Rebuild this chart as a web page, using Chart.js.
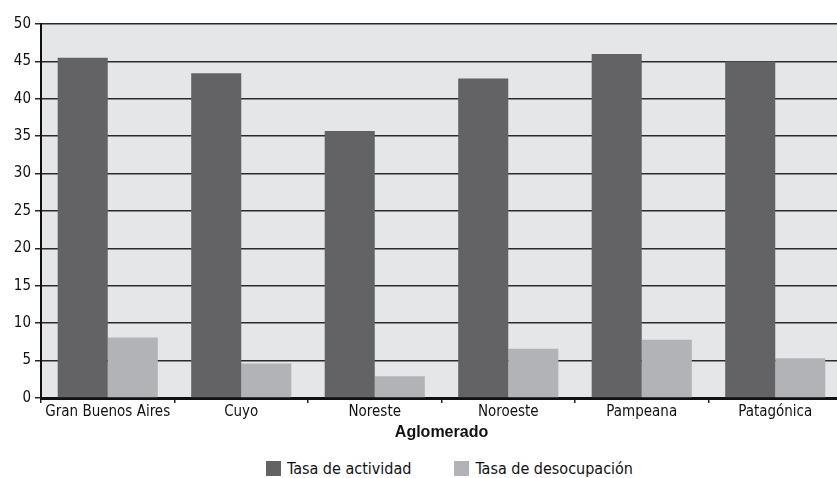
<!DOCTYPE html>
<html>
<head>
<meta charset="utf-8">
<script src="https://cdn.jsdelivr.net/npm/chart.js@4"></script>
<style>
    html, body { margin: 0; padding: 0; background: #ffffff; overflow: hidden; }
    #wrap { position: relative; width: 845px; height: 448px; }
    #legend {
        position: absolute;
        left: 266px;
        top: 459px;
        display: flex;
        align-items: center;
        font-family: "DejaVu Sans Condensed", "DejaVu Sans", sans-serif;
        font-stretch: condensed;
        font-size: 16px;
        color: #111111;
    }
    #legend .item { display: flex; align-items: center; margin-right: 43px; }
    #legend .box { width: 15px; height: 15px; margin-right: 6px; }
</style>
</head>
<body>
<div id="wrap"><canvas id="chart"></canvas></div>
<div id="legend"></div>
<script>
// ---------- Data ----------

const categories = ["Gran Buenos Aires", "Cuyo", "Noreste", "Noroeste", "Pampeana", "Patagónica"];
const tasaActividad = [45.5, 43.4, 35.7, 42.7, 46.0, 45.0];
const tasaDesocupacion = [8.1, 4.6, 2.9, 6.6, 7.8, 5.3];
const yTicks = [0, 5, 10, 15, 20, 25, 30, 35, 40, 45, 50];

const tickFont = { family: "'DejaVu Sans Condensed', 'Liberation Sans', sans-serif", size: 15 };

// ---------- Plot background ----------

const plotBackground = {
    id: "plotBackground",
    beforeDraw(chart) {
        const a = chart.chartArea;
        const c = chart.ctx;
        c.save();
        c.fillStyle = "#e5e6e8";
        c.fillRect(a.left, a.top, a.right - a.left, a.bottom - a.top);
        c.restore();
    }
};

// ---------- HTML legend ----------

const htmlLegend = {
    id: "htmlLegend",
    afterUpdate(chart) {
        const box = document.getElementById("legend");
        box.innerHTML = "";
        chart.data.datasets.forEach(ds => {
            const item = document.createElement("div");
            item.className = "item";
            const swatch = document.createElement("span");
            swatch.className = "box";
            swatch.style.background = ds.backgroundColor;
            const label = document.createElement("span");
            label.textContent = ds.label;
            item.appendChild(swatch);
            item.appendChild(label);
            box.appendChild(item);
        });
    }
};

new Chart(document.getElementById("chart"), {
    type: "bar",
    data: {
        labels: categories,
        datasets: [{
            label: "Tasa de actividad",
            data: tasaActividad,
            backgroundColor: "#636365"
        }, {
            label: "Tasa de desocupación",
            data: tasaDesocupacion,
            backgroundColor: "#b2b3b6"
        }]
    },
    options: {
        responsive: true,
        maintainAspectRatio: false,
        animation: false,
        layout: { padding: { top: 24, right: 3, bottom: 6, left: 0 } },
        datasets: {
            bar: { categoryPercentage: 0.75, barPercentage: 1 }
        },
        plugins: {
            tooltip: { enabled: false },
            legend: { display: false }
        },
        scales: {
            x: {
                grid: {
                    offset: true,
                    drawOnChartArea: false,
                    drawTicks: true,
                    tickLength: 5,
                    color: "#222222",
                    lineWidth: 1.5
                },
                border: { color: "#111111", width: 3 },
                ticks: {
                    color: "#111111",
                    font: tickFont,
                    padding: 0,
                    minRotation: 0,
                    maxRotation: 0,
                    autoSkip: false
                },
                title: {
                    display: true,
                    text: "Aglomerado",
                    color: "#111111",
                    padding: 0,
                    font: { family: "'Liberation Sans', Arial, sans-serif", size: 16, weight: "bold" }
                },
                afterFit(scale) {
                    scale.height = 44;
                    scale.paddingLeft = 0;
                    scale.paddingRight = 0;
                }
            },
            y: {
                min: 0,
                max: 50,
                afterBuildTicks(scale) {
                    scale.ticks = yTicks.map(v => ({ value: v }));
                },
                grid: {
                    color: "#2a2a2a",
                    lineWidth: 1.5,
                    tickLength: 6
                },
                border: { color: "#111111", width: 2 },
                ticks: { color: "#111111", font: tickFont, padding: 4 },
                afterFit(scale) { scale.width = 41; }
            }
        }
    },
    plugins: [plotBackground, htmlLegend]
});
</script>
</body>
</html>
